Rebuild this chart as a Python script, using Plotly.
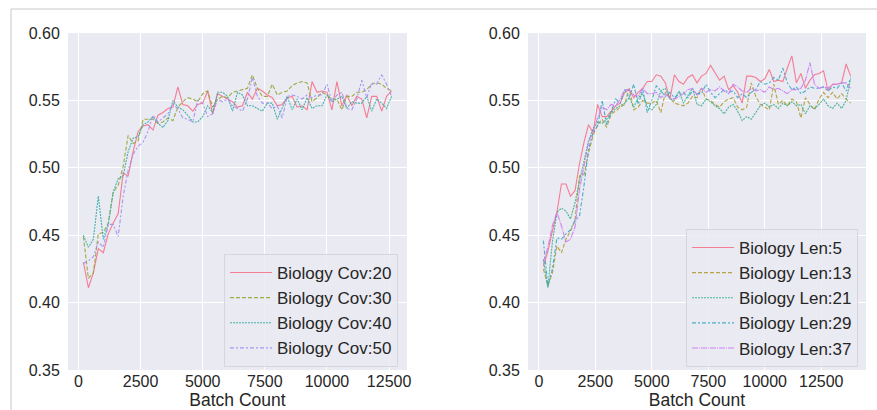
import plotly.graph_objects as go

# ---------------- data ----------------
x_left = list(range(200, 12601, 200))
x_right = list(range(200, 13801, 200))

cov20 = [0.430, 0.411, 0.422, 0.440, 0.437, 0.451, 0.459, 0.466, 0.496, 0.494,
         0.512, 0.527, 0.531, 0.532, 0.528, 0.539, 0.541, 0.544, 0.545, 0.560,
         0.547, 0.546, 0.542, 0.547, 0.548, 0.557, 0.540, 0.555, 0.553, 0.551,
         0.549, 0.545, 0.546, 0.556, 0.551, 0.559, 0.557, 0.554, 0.552, 0.546,
         0.547, 0.552, 0.553, 0.545, 0.546, 0.543, 0.564, 0.556, 0.557, 0.556,
         0.543, 0.564, 0.546, 0.554, 0.546, 0.553, 0.551, 0.537, 0.553, 0.553,
         0.542, 0.553, 0.557]
cov30 = [0.449, 0.418, 0.422, 0.451, 0.452, 0.459, 0.482, 0.487, 0.501, 0.524,
         0.518, 0.520, 0.536, 0.536, 0.536, 0.533, 0.534, 0.537, 0.535, 0.545,
         0.549, 0.552, 0.551, 0.549, 0.555, 0.557, 0.545, 0.551, 0.553, 0.552,
         0.556, 0.557, 0.558, 0.559, 0.569, 0.559, 0.553, 0.553, 0.562, 0.554,
         0.556, 0.557, 0.561, 0.563, 0.564, 0.563, 0.549, 0.552, 0.556, 0.554,
         0.551, 0.551, 0.543, 0.553, 0.553, 0.556, 0.556, 0.558, 0.562, 0.563,
         0.562, 0.559, 0.557]
cov40 = [0.450, 0.441, 0.447, 0.479, 0.447, 0.458, 0.482, 0.492, 0.494, 0.512,
         0.522, 0.523, 0.532, 0.534, 0.538, 0.533, 0.530, 0.535, 0.550, 0.545,
         0.543, 0.539, 0.534, 0.534, 0.538, 0.546, 0.541, 0.556, 0.556, 0.553,
         0.542, 0.556, 0.554, 0.546, 0.546, 0.544, 0.542, 0.548, 0.548, 0.536,
         0.544, 0.553, 0.543, 0.551, 0.543, 0.552, 0.544, 0.546, 0.546, 0.554,
         0.549, 0.551, 0.553, 0.544, 0.549, 0.548, 0.548, 0.553, 0.542, 0.551,
         0.548, 0.544, 0.553]
cov50 = [0.429, 0.431, 0.434, 0.445, 0.441, 0.458, 0.458, 0.449, 0.479, 0.498,
         0.510, 0.516, 0.519, 0.527, 0.539, 0.534, 0.537, 0.540, 0.547, 0.544,
         0.537, 0.536, 0.534, 0.550, 0.548, 0.538, 0.540, 0.551, 0.549, 0.551,
         0.546, 0.544, 0.542, 0.551, 0.567, 0.553, 0.548, 0.548, 0.544, 0.546,
         0.537, 0.553, 0.554, 0.553, 0.551, 0.554, 0.552, 0.554, 0.554, 0.562,
         0.549, 0.554, 0.556, 0.544, 0.543, 0.551, 0.565, 0.552, 0.563, 0.562,
         0.569, 0.562, 0.553]

len5 = [0.427, 0.438, 0.453, 0.467, 0.488, 0.488, 0.479, 0.483, 0.503, 0.519,
        0.532, 0.526, 0.547, 0.538, 0.538, 0.542, 0.546, 0.548, 0.556, 0.558,
        0.552, 0.556, 0.559, 0.564, 0.564, 0.569, 0.568, 0.563, 0.551, 0.569,
        0.564, 0.562, 0.567, 0.569, 0.563, 0.568, 0.570, 0.576, 0.571, 0.565,
        0.568, 0.558, 0.561, 0.556, 0.548, 0.568, 0.568, 0.567, 0.564, 0.566,
        0.573, 0.564, 0.565, 0.564, 0.574, 0.583, 0.563, 0.570, 0.559, 0.565,
        0.569, 0.570, 0.572, 0.557, 0.562, 0.562, 0.563, 0.577, 0.568]
len13 = [0.425, 0.4125, 0.422, 0.442, 0.437, 0.447, 0.453, 0.461, 0.494, 0.495,
         0.511, 0.524, 0.532, 0.536, 0.530, 0.540, 0.542, 0.545, 0.547, 0.559,
         0.543, 0.545, 0.550, 0.548, 0.548, 0.550, 0.541, 0.556, 0.552, 0.548,
         0.547, 0.546, 0.548, 0.553, 0.552, 0.559, 0.551, 0.550, 0.547, 0.545,
         0.549, 0.551, 0.552, 0.545, 0.543, 0.545, 0.563, 0.553, 0.547, 0.545,
         0.543, 0.562, 0.547, 0.550, 0.546, 0.551, 0.549, 0.537, 0.552, 0.547,
         0.543, 0.551, 0.556, 0.552, 0.556, 0.551, 0.555, 0.551, 0.548]
len21 = [0.432, 0.411, 0.445, 0.467, 0.470, 0.468, 0.462, 0.474, 0.490, 0.504,
         0.520, 0.529, 0.534, 0.533, 0.536, 0.541, 0.544, 0.546, 0.548, 0.552,
         0.545, 0.552, 0.555, 0.545, 0.543, 0.547, 0.557, 0.559, 0.551, 0.550,
         0.557, 0.548, 0.554, 0.559, 0.547, 0.546, 0.551, 0.549, 0.546, 0.544,
         0.540, 0.545, 0.547, 0.542, 0.535, 0.538, 0.536, 0.541, 0.546, 0.548,
         0.545, 0.547, 0.544, 0.548, 0.546, 0.549, 0.546, 0.547, 0.540, 0.546,
         0.544, 0.547, 0.551, 0.546, 0.544, 0.548, 0.544, 0.550, 0.566]
len29 = [0.446, 0.412, 0.425, 0.448, 0.447, 0.451, 0.454, 0.461, 0.464, 0.487,
         0.514, 0.526, 0.531, 0.550, 0.532, 0.542, 0.551, 0.548, 0.558, 0.552,
         0.562, 0.547, 0.558, 0.541, 0.550, 0.561, 0.557, 0.553, 0.556, 0.552,
         0.555, 0.556, 0.552, 0.557, 0.555, 0.555, 0.562, 0.556, 0.552, 0.555,
         0.558, 0.556, 0.557, 0.552, 0.555, 0.552, 0.556, 0.558, 0.564, 0.562,
         0.563, 0.567, 0.565, 0.574, 0.563, 0.558, 0.560, 0.555, 0.557, 0.560,
         0.559, 0.559, 0.560, 0.557, 0.560, 0.559, 0.563, 0.557, 0.567]
len37 = [0.430, 0.441, 0.457, 0.467, 0.457, 0.445, 0.447, 0.456, 0.484, 0.503,
         0.519, 0.527, 0.537, 0.545, 0.543, 0.547, 0.546, 0.551, 0.558, 0.558,
         0.554, 0.553, 0.559, 0.555, 0.555, 0.556, 0.552, 0.555, 0.552, 0.551,
         0.553, 0.555, 0.558, 0.559, 0.554, 0.559, 0.556, 0.558, 0.557, 0.560,
         0.557, 0.555, 0.562, 0.560, 0.557, 0.556, 0.559, 0.557, 0.558, 0.556,
         0.560, 0.558, 0.559, 0.557, 0.555, 0.558, 0.558, 0.559, 0.565, 0.578,
         0.562, 0.559, 0.560, 0.559, 0.562, 0.562, 0.563, 0.563, 0.559]

left_names = ["Biology Cov:20", "Biology Cov:30", "Biology Cov:40", "Biology Cov:50"]
left_series = [cov20, cov30, cov40, cov50]
right_names = ["Biology Len:5", "Biology Len:13", "Biology Len:21", "Biology Len:29", "Biology Len:37"]
right_series = [len5, len13, len21, len29, len37]

x_ticks = [0, 2500, 5000, 7500, 10000, 12500]
x_ticktext = ["0", "2500", "5000", "7500", "10000", "12500"]
y_ticks = [0.35, 0.40, 0.45, 0.50, 0.55, 0.60]
y_ticktext = ["0.35", "0.40", "0.45", "0.50", "0.55", "0.60"]

# ---------------- style ----------------
left_colors = ["#f77189", "#97a431", "#36ada4", "#a48cf4"]
right_colors = ["#f77189", "#b19c31", "#3bb08a", "#38a9c5", "#cc79f4"]
dashes = ["solid", "4px,2px", "2px,1px", "4px,2px,2px,2px", "6px,1px,1px,1px"]
FONT = "Liberation Sans, Arial, sans-serif"
TXT = "#262626"

fig = go.Figure()
for name, ys, c, d in zip(left_names, left_series, left_colors, dashes):
    fig.add_trace(go.Scatter(x=x_left, y=ys, mode="lines", name=name,
                             line=dict(color=c, width=1.1, dash=d), opacity=0.9,
                             xaxis="x", yaxis="y", legend="legend"))
for name, ys, c, d in zip(right_names, right_series, right_colors, dashes):
    fig.add_trace(go.Scatter(x=x_right, y=ys, mode="lines", name=name,
                             line=dict(color=c, width=1.1, dash=d), opacity=0.9,
                             xaxis="x2", yaxis="y2", legend="legend2"))

W, H = 877, 410
ydom = [1 - 370 / H, 1 - 33 / H]

def xax(domain, rng, anchor):
    return dict(domain=domain, range=rng, anchor=anchor, tickvals=x_ticks, ticktext=x_ticktext,
                automargin=False,
                showgrid=True, gridcolor="white", gridwidth=1, zeroline=False,
                showline=False, ticks="",
                tickfont=dict(family=FONT, size=16, color=TXT),
                title=dict(text="Batch Count", font=dict(family=FONT, size=17.5, color=TXT), standoff=1))

def yax(rng, anchor):
    return dict(domain=ydom, range=rng, anchor=anchor, tickvals=y_ticks, ticktext=y_ticktext,
                automargin=False,
                showgrid=True, gridcolor="white", gridwidth=1, zeroline=False,
                showline=False, ticks="outside", ticklen=4, tickcolor="rgba(0,0,0,0)",
                tickfont=dict(family=FONT, size=16, color=TXT))

leg_common = dict(font=dict(family=FONT, size=17, color=TXT), bgcolor="rgba(234,234,242,0.85)",
                  bordercolor="#d6d6de", borderwidth=1, yanchor="bottom", xanchor="right",
                  tracegroupgap=0, itemwidth=42)

fig.update_layout(
    width=W, height=H, margin=dict(l=0, r=0, t=0, b=0, autoexpand=False),
    paper_bgcolor="white", plot_bgcolor="#EAEAF2",
    xaxis=xax([68 / W, 407 / W], [-420, 13220], "y"),
    yaxis=yax([0.35, 0.60], "x"),
    xaxis2=xax([528 / W, 866 / W], [-480, 14480], "y2"),
    yaxis2=yax([0.35, 0.60], "x2"),
    legend=dict(x=398 / W, y=(H - 367) / H, **leg_common),
    legend2=dict(x=858 / W, y=(H - 367) / H, **leg_common),
    showlegend=True,
    shapes=[
        dict(type="line", xref="paper", yref="paper", x0=11 / W, x1=1, y0=1 - 9 / H, y1=1 - 9 / H,
             line=dict(color="#c8c8c8", width=1)),
        dict(type="line", xref="paper", yref="paper", x0=11 / W, x1=11 / W, y0=0, y1=1 - 9 / H,
             line=dict(color="#c8c8c8", width=1)),
    ],
)

fig.write_html("out.html")
